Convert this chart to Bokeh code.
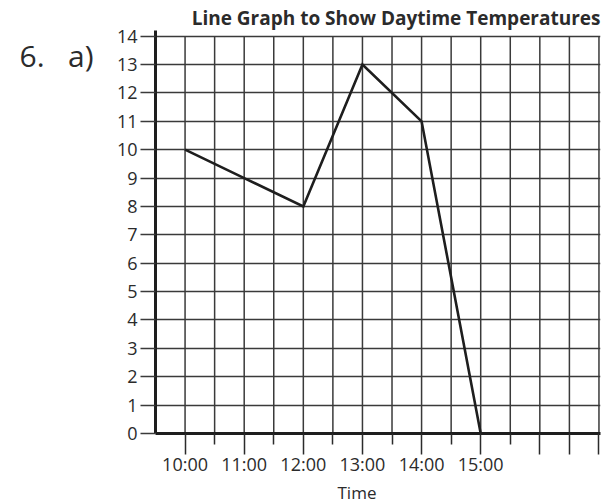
import numpy as np
from bokeh.plotting import figure
from bokeh.models import Range1d, FixedTicker, LinearAxis, Title
from bokeh.embed import file_html
from bokeh.resources import INLINE

# ---- data ----
hours = [10, 11, 12, 13, 14, 15]
temps = [10, 9, 8, 13, 11, 0]
hour_labels = ["10:00", "11:00", "12:00", "13:00", "14:00", "15:00"]
extra_major = [16, 16.5, 17]
minor_ticks = [10.5, 11.5, 12.5, 13.5, 14.5, 15.5]
y_ticks = list(range(0, 15))
title_text = "Line Graph to Show Daytime Temperatures"
question_text = "6.\u00a0\u00a0\u00a0a)"
x_title = "Time"

# ---- layout ----
X0, X1 = 9.5, 17.0
W, H = 602, 504
FL, FR = 155, 600
FT, FB = 30, 433
FONT = "Open Sans"
INK = "#2b2b2b"
GRID = "#3a3a3a"

p = figure(width=W, height=H, output_backend="svg", toolbar_location=None,
           x_range=Range1d(X0, 17.026), y_range=Range1d(0, 14.2),
           min_border_left=FL, min_border_right=W - FR,
           min_border_top=FT, min_border_bottom=H - FB)
p.outline_line_color = None
p.background_fill_color = "white"
p.border_fill_color = "white"

# title
p.title.text = title_text
p.title.align = "right"
p.title.text_font = FONT
p.title.text_font_style = "bold"
p.title.text_font_size = "19px"
p.title.text_color = INK
p.title.standoff = 0
p.title.offset = 0

# grid
p.xgrid.visible = False
p.ygrid.ticker = FixedTicker(ticks=y_ticks)
p.ygrid.grid_line_color = GRID
p.ygrid.grid_line_width = 1.5
grid_x = np.arange(X0, X1 + 0.01, 0.5)
p.segment(x0=grid_x, y0=0, x1=grid_x, y1=14, line_color=GRID, line_width=1.5)

# y axis
ya = p.yaxis[0]
ya.ticker = FixedTicker(ticks=y_ticks)
ya.axis_line_width = 3
ya.axis_line_color = "#1e1e1e"
ya.major_tick_out = 15
ya.major_tick_in = 0
ya.major_tick_line_color = GRID
ya.major_tick_line_width = 1.5
ya.minor_tick_line_color = None
ya.major_label_standoff = 3
ya.major_label_text_font = FONT
ya.major_label_text_font_size = "18px"
ya.major_label_text_color = INK

# question number, shown as an outer left axis label
qa = LinearAxis(ticker=FixedTicker(ticks=[13.33]),
                major_label_overrides={13.33: question_text},
                axis_line_color=None, major_tick_line_color=None,
                minor_tick_line_color=None, major_tick_out=0, major_tick_in=0,
                major_label_standoff=20,
                major_label_text_font=FONT, major_label_text_font_size="30px",
                major_label_text_color=INK)
p.add_layout(qa, "left")

# x axis
xa = p.xaxis[0]
xa.ticker = FixedTicker(ticks=hours + extra_major, minor_ticks=minor_ticks)
overrides = {h: lab for h, lab in zip(hours, hour_labels)}
for t in extra_major:
    overrides[t] = ""
xa.major_label_overrides = overrides
xa.axis_line_width = 3
xa.axis_line_color = "#1e1e1e"
xa.major_tick_out = 21
xa.major_tick_in = 0
xa.minor_tick_out = 11
xa.minor_tick_in = 0
xa.major_tick_line_color = INK
xa.minor_tick_line_color = INK
xa.major_tick_line_width = 1.5
xa.minor_tick_line_width = 1.5
xa.major_label_standoff = -3
xa.major_label_text_font = FONT
xa.major_label_text_font_size = "18px"
xa.major_label_text_color = INK

# x title
p.add_layout(Title(text=x_title, align="left", offset=182, standoff=0,
                   text_font=FONT, text_font_style="normal",
                   text_font_size="17px", text_color=INK), "below")

# data line
p.line(hours, temps, line_width=2.6, line_color="#1e1e1e", line_join="miter")

open("out.html", "w").write(file_html(p, INLINE))
